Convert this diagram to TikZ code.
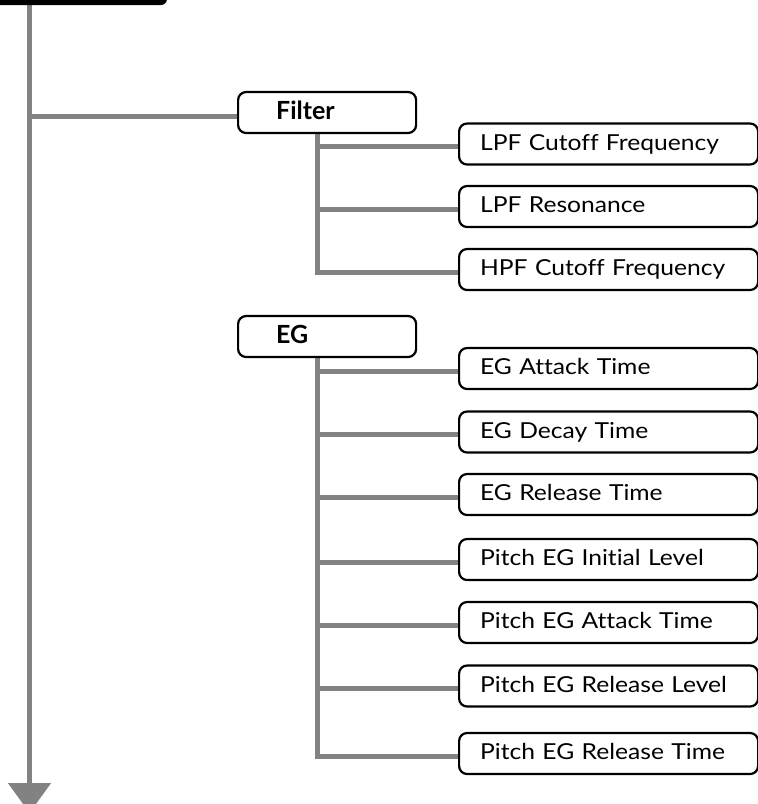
\documentclass[tikz,border=0pt]{standalone}
\usepackage{fontspec}
\setmainfont{Lato}
\newfontfamily\paramfont{Lato}[FakeStretch=1.12, Ligatures=NoCommon]
\usetikzlibrary{arrows.meta,backgrounds}
\definecolor{branch}{RGB}{130,130,130}
\tikzset{
  gline/.style={draw=branch, line width=5pt},
  groupbox/.style={draw, fill=white, line width=2.2pt, rounded corners=8pt,
    anchor=west, align=left, inner xsep=38pt, text width=102pt,
    minimum height=41pt, text height=18pt, text depth=4pt,
    font=\bfseries\fontsize{25}{28}\selectfont},
  parambox/.style={draw, fill=white, line width=2.2pt, rounded corners=8pt,
    anchor=west, align=left, inner xsep=21pt, text width=257pt,
    minimum height=41pt, text height=16pt, text depth=4pt,
    font=\paramfont\fontsize{22}{26}\selectfont}
}
\begin{document}
\begin{tikzpicture}[x=1pt,y=-1pt]
\useasboundingbox (0,0) rectangle (758,804);
\clip (0,0) rectangle (758,804);

% header tab running off the top edge
\fill[black, rounded corners=6pt] (-20,-20) rectangle (167,5);

% group boxes
\node[groupbox] (filter) at (237,112.5) {Filter};
\node[groupbox] (eg) at (237,336.5) {EG};

% filter parameters
\node[parambox] (lpfc) at (458,144)   {LPF Cutoff Frequency};
\node[parambox] (lpfr) at (458,206.5) {LPF Resonance};
\node[parambox] (hpfc) at (458,269.5) {HPF Cutoff Frequency};

% EG parameters
\node[parambox] (ega)  at (458,368.5) {EG Attack Time};
\node[parambox] (egd)  at (458,432)   {EG Decay Time};
\node[parambox] (egr)  at (458,494.5) {EG Release Time};
\node[parambox] (pegi) at (458,559.5) {Pitch EG Initial Level};
\node[parambox] (pega) at (458,622.5) {Pitch EG Attack Time};
\node[parambox] (pegl) at (458,686)   {Pitch EG Release Level};
\node[parambox] (pegt) at (458,753.5) {Pitch EG Release Time};

\coordinate (spine) at (29.5,0);
\coordinate (fx) at (317,0);
% connector entry points, a little below each box's centre line
\coordinate (filter-in) at ([yshift=-3.5pt]filter.west);
\foreach \n in {lpfc,lpfr,hpfc,ega,egd,egr,pegi,pega,pegl,pegt}
  \coordinate (\n-in) at ([yshift=-2.5pt]\n.west);

\begin{scope}[on background layer]
  % main spine with arrow
  \draw[gline, -{Triangle[width=42pt,length=30pt]}] (spine) -- (29.5,813);
  \draw[gline] (spine |- filter-in) -- (filter-in);

  % filter branch
  \draw[gline] (filter.south -| fx) |- (hpfc-in);
  \foreach \n in {lpfc,lpfr}
    \draw[gline] (fx |- \n-in) -- (\n-in);

  % EG branch
  \draw[gline] (eg.south -| fx) |- (pegt-in);
  \foreach \n in {ega,egd,egr,pegi,pega,pegl}
    \draw[gline] (fx |- \n-in) -- (\n-in);
\end{scope}
\end{tikzpicture}
\end{document}
